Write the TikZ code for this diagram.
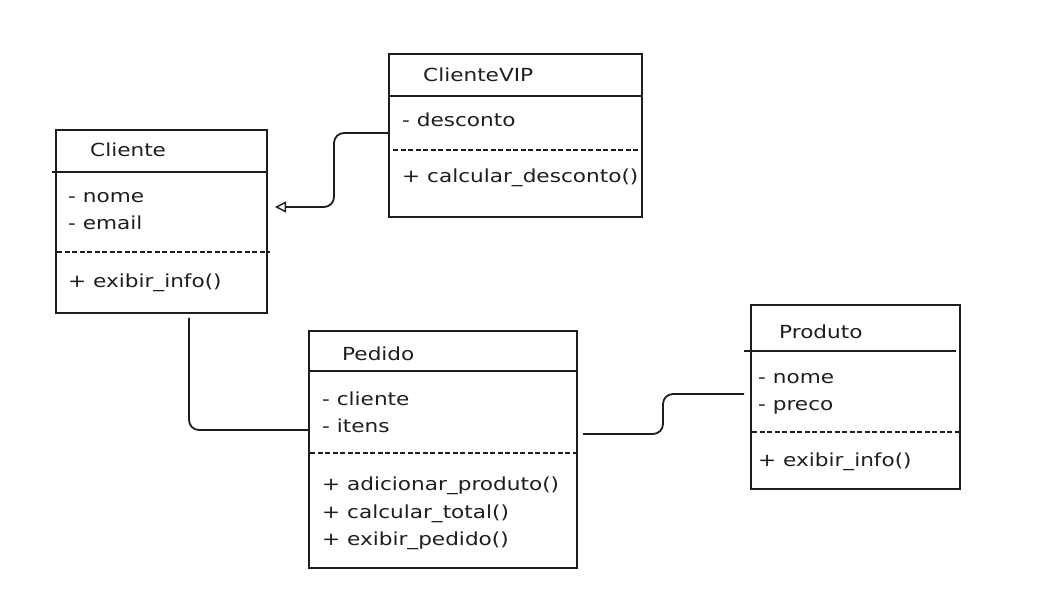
\documentclass[tikz,border=0pt]{standalone}
\usepackage{fontspec}
\setmainfont{DejaVu Sans}[FakeStretch=1.2]
\usetikzlibrary{arrows.meta}
\definecolor{ink}{HTML}{1E1E1E}
\begin{document}
\begin{tikzpicture}[x=1pt,y=-1pt,
  classbox/.style={draw=ink,line width=1.8pt,rectangle,inner sep=0pt,anchor=north west},
  sep/.style={draw=ink,line width=1.6pt},
  dsep/.style={draw=ink,line width=1.5pt,dash pattern=on 5pt off 2.5pt},
  txt/.style={anchor=base west,inner sep=0pt,text=ink,font=\fontsize{18}{21}\selectfont},
  link/.style={draw=ink,line width=1.8pt,rounded corners=10pt},
  inherit/.style={link,-{Triangle[open,length=11pt,width=11pt,line width=1.4pt]}}]
\useasboundingbox[fill=white] (0,0) rectangle (1049,601);

% Cliente
\node[classbox,minimum width=211pt,minimum height=183pt] (cliente) at (55,129) {};
\draw[sep] (52,172) -- (266,172);
\draw[dsep] (57,252) -- (270,252);
\node[txt] (clienteT) at (90,157) {Cliente};
\node[txt] (clienteA1) at (68,203) {- nome};
\node[txt] (clienteA2) at (68,230) {- email};
\node[txt] (clienteM1) at (68,288) {+ exibir\_info()};

% ClienteVIP
\node[classbox,minimum width=253pt,minimum height=163pt] (vip) at (388,53) {};
\draw[sep] (388,96) -- (641,96);
\draw[dsep] (393,150) -- (641,150);
\node[txt] (vipT) at (423,82) {ClienteVIP};
\node[txt] (vipA1) at (402,127) {- desconto};
\node[txt] (vipM1) at (402,183) {+ calcular\_desconto()};

% Pedido
\node[classbox,minimum width=268pt,minimum height=237pt] (pedido) at (308,330) {};
\draw[sep] (308,371) -- (578,371);
\draw[dsep] (310,453) -- (578,453);
\node[txt] (pedidoT) at (342,360) {Pedido};
\node[txt] (pedidoA1) at (322,405) {- cliente};
\node[txt] (pedidoA2) at (322,432) {- itens};
\node[txt] (pedidoM1) at (322,490) {+ adicionar\_produto()};
\node[txt] (pedidoM2) at (322,518) {+ calcular\_total()};
\node[txt] (pedidoM3) at (322,545) {+ exibir\_pedido()};

% Produto
\node[classbox,minimum width=209pt,minimum height=184pt] (produto) at (750,304) {};
\draw[sep] (744,351) -- (956,351);
\draw[dsep] (752,432) -- (960,432);
\node[txt] (produtoT) at (779,338) {Produto};
\node[txt] (produtoA1) at (758,383) {- nome};
\node[txt] (produtoA2) at (758,410) {- preco};
\node[txt] (produtoM1) at (758,466) {+ exibir\_info()};

% connector ends
\coordinate (vipOut) at (vip.west |- 0,133);
\coordinate (clienteIn) at (275,207);
\coordinate (clienteOut) at (189,318);
\coordinate (pedidoIn) at (pedido.west |- 0,430);
\coordinate (pedidoOut) at (583,434);
\coordinate (produtoIn) at (744,394);

% ClienteVIP inherits Cliente
\draw[inherit] (vipOut) -- (334,133) -- (334,207) -- (clienteIn);
% Cliente -- Pedido
\draw[link] (clienteOut) -- (189,430) -- (pedidoIn);
% Pedido -- Produto
\draw[link] (pedidoOut) -- (663,434) -- (663,394) -- (produtoIn);
\end{tikzpicture}
\end{document}
